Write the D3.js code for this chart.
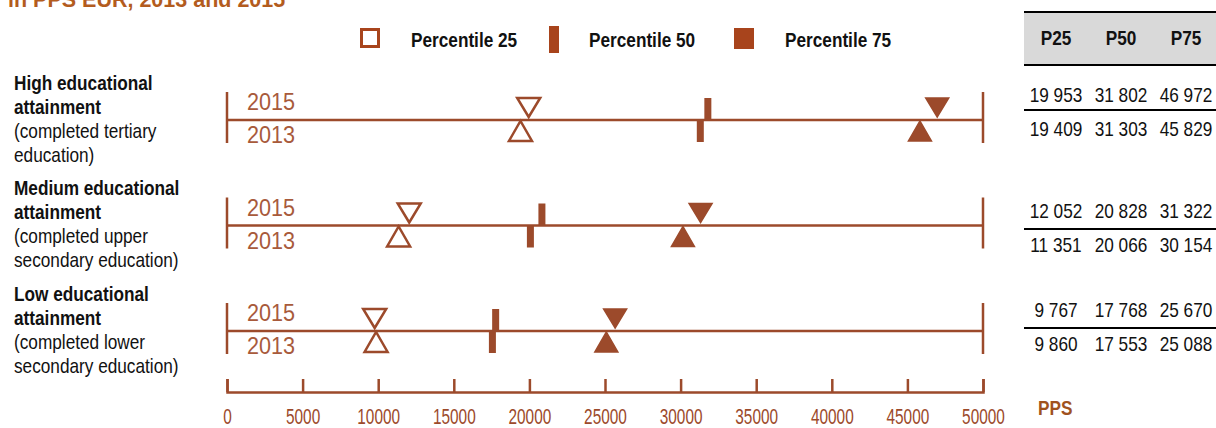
<!DOCTYPE html>
<html>
<head>
<meta charset="utf-8">
<script src="https://cdn.jsdelivr.net/npm/d3@7"></script>
<style>
  body { margin: 0; background: #fff; }
  svg { display: block; }
</style>
</head>
<body>
<svg id="chart" width="1216" height="428"></svg>
<script>
// data (PPS)
var groups = ["High", "Medium", "Low"];
var labelLines = [
  [["High educational", true], ["attainment", true], ["(completed tertiary", false], ["education)", false]],
  [["Medium educational", true], ["attainment", true], ["(completed upper", false], ["secondary education)", false]],
  [["Low educational", true], ["attainment", true], ["(completed lower", false], ["secondary education)", false]]
];
var p25_2015 = [19953, 12052, 9767];
var p50_2015 = [31802, 20828, 17768];
var p75_2015 = [46972, 31322, 25670];
var p25_2013 = [19409, 11351, 9860];
var p50_2013 = [31303, 20066, 17553];
var p75_2013 = [45829, 30154, 25088];
var tableHead = ["P25", "P50", "P75"];
var legendItems = ["Percentile 25", "Percentile 50", "Percentile 75"];
var xTicks = [0, 5000, 10000, 15000, 20000, 25000, 30000, 35000, 40000, 45000, 50000];

var brown = "#9c4a2b",
    textBrown = "#a85a3b",
    legendBrown = "#a8441c",
    sans = "'Liberation Sans', Arial, sans-serif";

var svg = d3.select("#chart");

var x = d3.scaleLinear().domain([0, 50000]).range([227, 983]);
var y = d3.scalePoint().domain(groups).range([120, 331]);

// narrow text: Liberation Sans squeezed like Arial Narrow
function ntext(parent, px, py, txt, size, opts) {
  opts = opts || {};
  return parent.append("text")
      .attr("transform", "translate(" + px + "," + py + ") scale(" + (opts.sx || 0.82) + ",1)")
      .attr("font-family", sans)
      .attr("font-size", size)
      .attr("font-weight", opts.bold ? "bold" : "normal")
      .attr("text-anchor", opts.anchor || "start")
      .attr("fill", opts.fill || "#111")
      .text(txt);
}

// title, cut off at the top
svg.append("text")
    .attr("x", 8).attr("y", 7)
    .attr("font-family", sans)
    .attr("font-weight", "bold").attr("font-size", 21.5)
    .attr("fill", "#b35c1e")
    .text("in PPS EUR, 2013 and 2015");

// legend
var lg = svg.append("g");
lg.append("rect").attr("x", 361.5).attr("y", 29.5).attr("width", 17).attr("height", 17)
    .attr("fill", "#fff").attr("stroke", legendBrown).attr("stroke-width", 3);
lg.append("rect").attr("x", 549).attr("y", 26).attr("width", 10).attr("height", 27)
    .attr("fill", legendBrown);
lg.append("rect").attr("x", 734).attr("y", 28).attr("width", 20).attr("height", 21)
    .attr("fill", legendBrown);
var legX = [411, 589, 785];
legendItems.forEach(function (t, i) {
  ntext(lg, legX[i], 47, t, 21, {bold: true});
});

// left category labels
var lab = svg.append("g");
var labTop = [90, 195, 301];
labelLines.forEach(function (lines, i) {
  lines.forEach(function (l, j) {
    ntext(lab, 14, labTop[i] + j * 24, l[0], 21, {bold: l[1]});
  });
});

// row lines
var rows = svg.append("g").selectAll("g").data(groups).enter().append("g");
rows.append("line")
    .attr("x1", x(0)).attr("x2", x(50000))
    .attr("y1", function (d) { return y(d); }).attr("y2", function (d) { return y(d); })
    .attr("stroke", brown).attr("stroke-width", 2.5);
[0, 50000].forEach(function (v) {
  rows.append("line")
      .attr("x1", x(v)).attr("x2", x(v))
      .attr("y1", function (d) { return y(d) - 28; })
      .attr("y2", function (d) { return y(d) + 23; })
      .attr("stroke", brown).attr("stroke-width", 2.5);
});
groups.forEach(function (g) {
  ntext(svg, 247, y(g) - 10, "2015", 24, {sx: 0.9, fill: textBrown});
  ntext(svg, 247, y(g) + 23, "2013", 24, {sx: 0.9, fill: textBrown});
});

function triDown(cx, cy) { // apex at bottom
  return "M" + (cx - 11.5) + "," + (cy - 22) + "L" + (cx + 11.5) + "," + (cy - 22) + "L" + cx + "," + (cy - 3) + "Z";
}
function triUp(cx, cy) {
  return "M" + (cx - 11.5) + "," + (cy + 21) + "L" + (cx + 11.5) + "," + (cy + 21) + "L" + cx + "," + (cy + 1) + "Z";
}

var marks = svg.append("g");
groups.forEach(function (g, i) {
  var cy = y(g);
  // P25 open triangles
  marks.append("path").attr("d", triDown(x(p25_2015[i]), cy))
      .attr("fill", "#fff").attr("stroke", brown).attr("stroke-width", 2.5);
  marks.append("path").attr("d", triUp(x(p25_2013[i]), cy))
      .attr("fill", "#fff").attr("stroke", brown).attr("stroke-width", 2.5);
  // P50 bars
  marks.append("rect").attr("x", x(p50_2015[i]) - 3.5).attr("y", cy - 22)
      .attr("width", 7).attr("height", 22).attr("fill", brown);
  marks.append("rect").attr("x", x(p50_2013[i]) - 3.5).attr("y", cy)
      .attr("width", 7).attr("height", 22).attr("fill", brown);
  // P75 filled triangles
  marks.append("path").attr("d", triDown(x(p75_2015[i]), cy)).attr("fill", brown).attr("stroke", brown).attr("stroke-width", 1.5);
  marks.append("path").attr("d", triUp(x(p75_2013[i]), cy)).attr("fill", brown).attr("stroke", brown).attr("stroke-width", 1.5);
});

// bottom axis, ticks pointing up
var axis = d3.axisBottom(x).tickValues(xTicks).tickFormat(d3.format("d"))
    .tickSize(-13).tickPadding(16);
var ax = svg.append("g").attr("transform", "translate(0,392)").call(axis);
ax.select(".domain").attr("stroke", brown).attr("stroke-width", 2.5);
ax.selectAll(".tick line").attr("stroke", brown).attr("stroke-width", 2.5);
ax.selectAll(".tick text")
    .attr("font-family", sans).attr("font-size", 22).attr("fill", brown)
    .attr("transform", "scale(0.7,1)")
    .attr("x", 0);

// table on the right
var tbl = svg.append("g");
var colX = [1056, 1121, 1186];
tbl.append("rect").attr("x", 1024).attr("y", 12).attr("width", 192).attr("height", 53).attr("fill", "#d9d9d9");
tbl.append("line").attr("x1", 1024).attr("x2", 1216).attr("y1", 12).attr("y2", 12).attr("stroke", "#000").attr("stroke-width", 2);
tbl.append("line").attr("x1", 1024).attr("x2", 1216).attr("y1", 65).attr("y2", 65).attr("stroke", "#000").attr("stroke-width", 2);
tableHead.forEach(function (h, i) {
  ntext(tbl, colX[i], 45, h, 21, {bold: true, anchor: "middle"});
});
var fmt = function (v) { return d3.format(",")(v).replace(",", " "); };
var rowBase = [102, 218, 317];
var lineY = [110, 229, 328];
groups.forEach(function (g, i) {
  [[p25_2015, p50_2015, p75_2015], [p25_2013, p50_2013, p75_2013]].forEach(function (set, k) {
    set.forEach(function (arr, c) {
      ntext(tbl, colX[c], rowBase[i] + k * 33.5, fmt(arr[i]), 21, {anchor: "middle"});
    });
  });
  tbl.append("line").attr("x1", 1024).attr("x2", 1216).attr("y1", lineY[i]).attr("y2", lineY[i])
      .attr("stroke", "#000").attr("stroke-width", 2);
});
ntext(tbl, 1038, 415, "PPS", 21, {bold: true, fill: "#a0521e"});
</script>
</body>
</html>
